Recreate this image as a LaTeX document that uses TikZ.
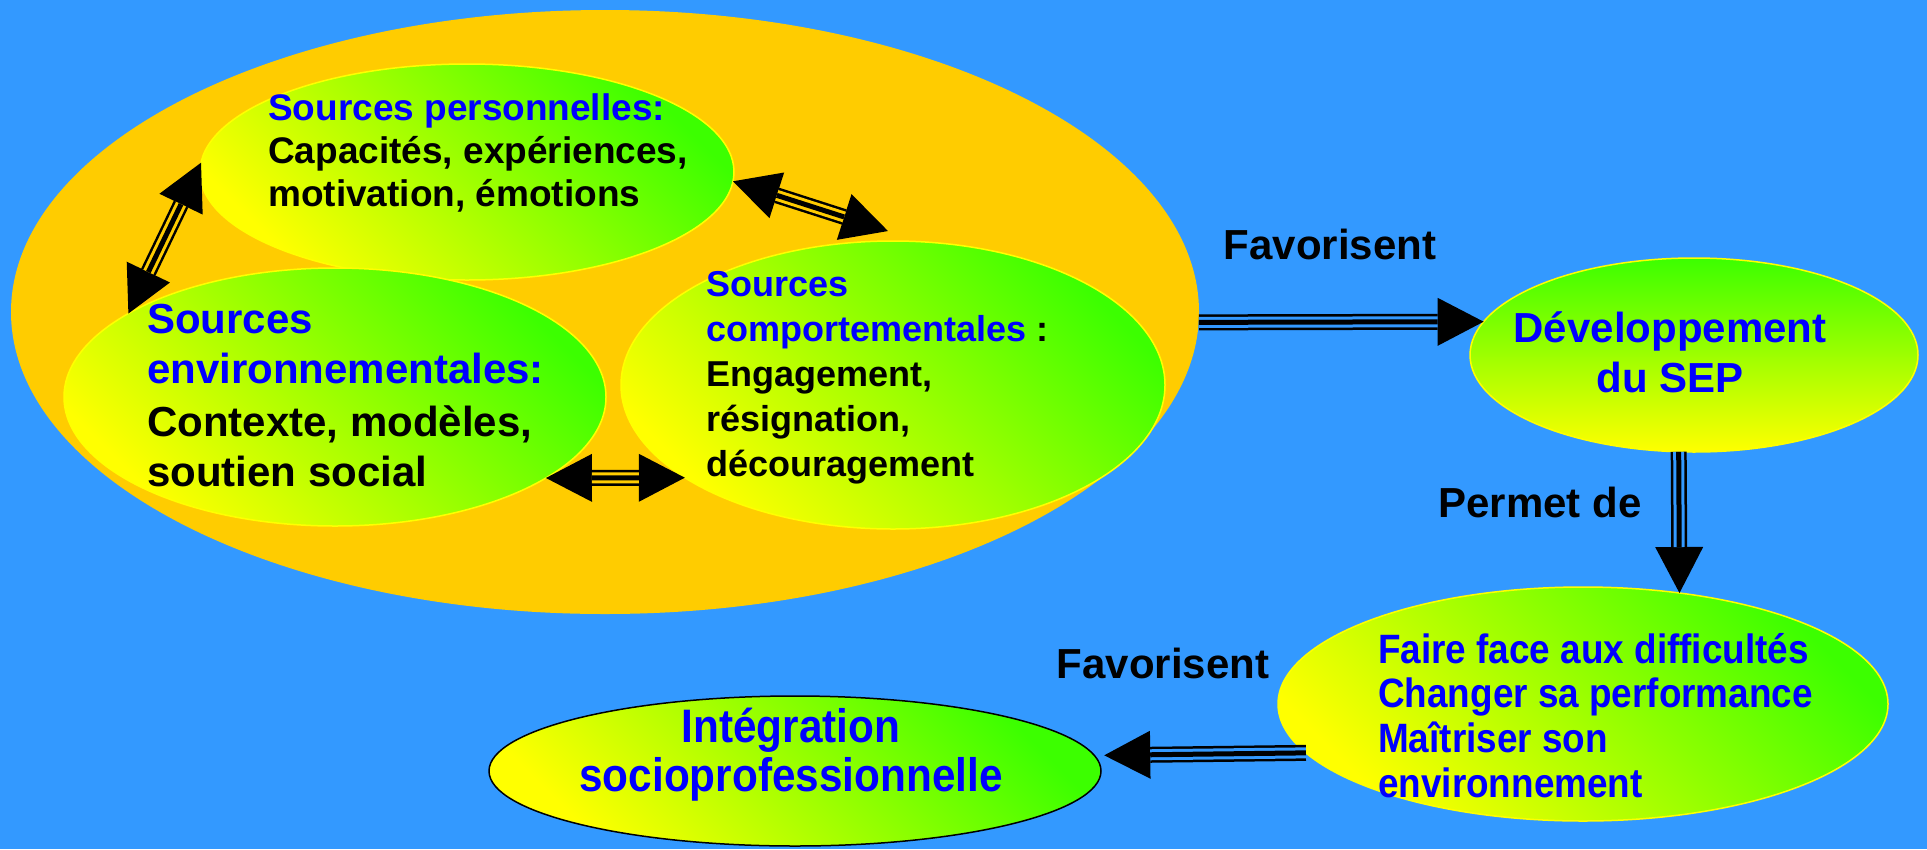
\documentclass[tikz,border=0pt]{standalone}
\usepackage{fontspec}
\setmainfont{Liberation Sans}
\newfontfamily\narrowfont[FakeStretch=0.9]{Liberation Sans}
\usepackage{tikz}
\usetikzlibrary{arrows.meta}
\usetikzlibrary{shapes.geometric}
\definecolor{bgblue}{RGB}{51,153,255}
\definecolor{gold}{RGB}{255,204,0}
\definecolor{srcblue}{RGB}{0,0,255}
\definecolor{lgreen}{RGB}{60,255,0}
\definecolor{lyellow}{RGB}{255,255,0}
\tikzset{>={Triangle[length=46pt,width=48pt,line width=0pt]},
  triple/.style={line width=16pt, draw=black,
    postaction={draw=#1, line width=11pt, -, shorten >=46pt},
    postaction={draw=black, line width=5pt, -, shorten >=46pt}},
  triple both/.style={line width=16pt, draw=black,
    postaction={draw=#1, line width=11pt, -, shorten >=46pt, shorten <=46pt},
    postaction={draw=black, line width=5pt, -, shorten >=46pt, shorten <=46pt}},
  blob/.style={ellipse, inner sep=0pt, outer sep=0pt, draw=lyellow, line width=1.5pt,
    top color=lgreen, bottom color=lyellow, shading angle=-45},
  txt/.style={align=left, inner sep=0pt},
  lbl/.style={inner sep=0pt, font=\bfseries\fontsize{42pt}{48pt}\selectfont}}

\begin{document}
\begin{tikzpicture}[x=1pt,y=-1pt]

  \useasboundingbox (0,0) rectangle (1927,849);
  \fill [bgblue] (0,0) rectangle (1927,849);

  % les sources
  \node [ellipse, fill=gold, inner sep=0pt, minimum width=1188pt, minimum height=604pt] (srcs) at (605,312) {};
  \node [blob, minimum width=534pt, minimum height=216pt] (pers) at (467,172) {};
  \node [blob, minimum width=542pt, minimum height=258pt] (env) at (335,397) {};
  \node [blob, minimum width=544pt, minimum height=288pt] (comp) at (893,385) {};

  \node [blob, shading angle=0, minimum width=448pt, minimum height=194pt] (dev) at (1694,355) {};
  \node [blob, minimum width=610pt, minimum height=234pt] (ffd) at (1583,704) {};
  \node [blob, draw=black, minimum width=612pt, minimum height=150pt] (integ) at (795,771) {};

  \node [txt, anchor=north west, font=\bfseries\fontsize{37pt}{43pt}\selectfont] (pers-t) at (268,93)
    {\textcolor{srcblue}{Sources personnelles:}\\Capacités, expériences,\\motivation, émotions};
  \node [txt, anchor=north west, font=\bfseries\fontsize{42pt}{50pt}\selectfont] (env-t) at (147,304)
    {\textcolor{srcblue}{Sources}\\\textcolor{srcblue}{environnementales:}\\[3pt]Contexte, modèles,\\soutien social};
  \node [txt, anchor=north west, font=\bfseries\fontsize{36pt}{45pt}\selectfont] (comp-t) at (706,271)
    {\textcolor{srcblue}{Sources}\\\textcolor{srcblue}{comportementales} :\\Engagement,\\résignation,\\découragement};

  \node [txt, align=center, anchor=north, text=srcblue, font=\bfseries\fontsize{42pt}{50pt}\selectfont] (dev-t) at (1670,311)
    {Développement\\du SEP};
  \node [txt, anchor=north west, text=srcblue, font=\narrowfont\bfseries\fontsize{41pt}{44.6pt}\selectfont] (ffd-t) at (1378,633)
    {Faire face aux difficultés\\Changer sa performance\\Maîtriser son\\environnement};
  \node [txt, align=center, text=srcblue, font=\narrowfont\bfseries\fontsize{47pt}{49pt}\selectfont] (integ-t) at (791,755)
    {Intégration\\socioprofessionnelle};

  \node [lbl, anchor=base] (fav1) at (1330,259) {Favorisent};
  \node [lbl, anchor=base] (perm) at (1540,517) {Permet de};
  \node [lbl, anchor=base] (fav2) at (1163,678) {Favorisent};

  % fleches
  \draw [triple both=gold, <->] (pers.178) -- (env.158);
  \draw [triple both=gold, <->] (pers.-2) -- ([yshift=10pt]comp.92);
  \draw [triple both=gold, <->] (env.-21) -- (comp.204);

  \draw [triple=bgblue, ->] (srcs.-1) -- (dev.171);
  \draw [triple=bgblue, ->] (dev.261) -- (ffd.49);
  \draw [triple=bgblue, ->] (ffd.190) -- ([xshift=10pt]integ.3);

\end{tikzpicture}
\end{document}
